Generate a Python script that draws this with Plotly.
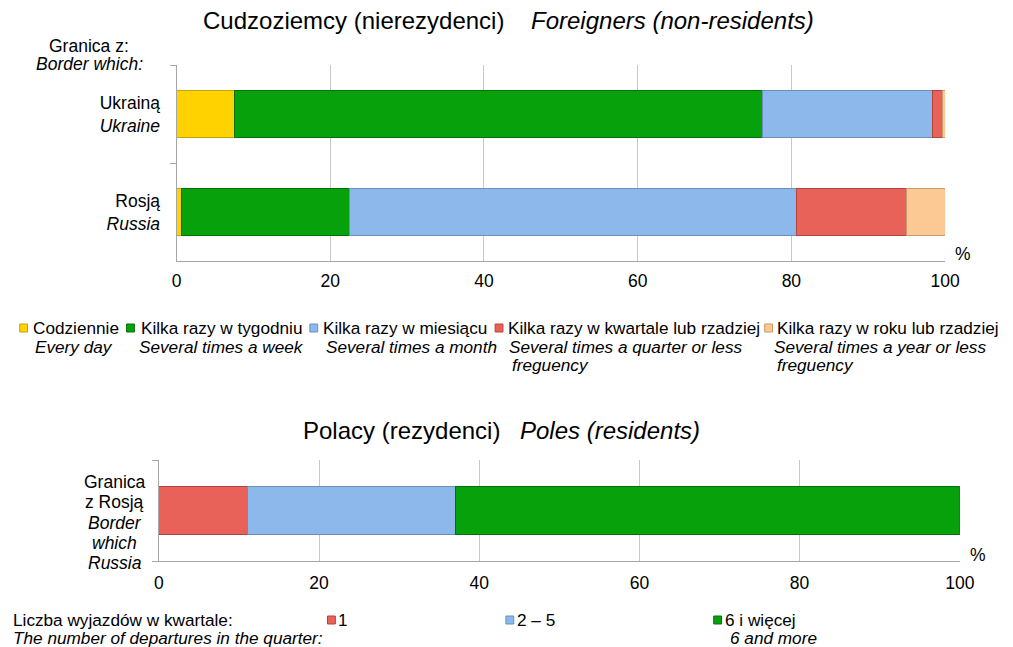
import plotly.graph_objects as go

W, H = 1013, 647

# ---------------- data ----------------
top_title_pl = "Cudzoziemcy (nierezydenci)"
top_title_en = "Foreigners (non-residents)"
bottom_title_pl = "Polacy (rezydenci)"
bottom_title_en = "Poles (residents)"

top_categories_pl = ["Ukrainą", "Rosją"]
top_categories_en = ["Ukraine", "Russia"]
top_axis_title = ["Granica z:", "Border which:"]

top_series_pl = ["Codziennie", "Kilka razy w tygodniu", "Kilka razy w miesiącu",
                 "Kilka razy w kwartale lub rzadziej", "Kilka razy w roku lub rzadziej"]
top_series_en = [["Every day"], ["Several times a week"], ["Several times a month"],
                 ["Several times a quarter or less", "freguency"],
                 ["Several times a year or less", "freguency"]]
ukraine_values = [7.5, 68.7, 22.1, 1.4, 0.3]
russia_values = [0.7, 21.8, 58.2, 14.3, 5.0]
top_colors = ["#FFD200", "#07A10B", "#8DB8EC", "#E8625A", "#FCC994"]
top_edges = ["#C9A400", "#04700A", "#6A8FBF", "#B2433C", "#C99A6A"]

bottom_category_lines = ["Granica", "z Rosją", "<i>Border</i>", "<i>which</i>", "<i>Russia</i>"]
bottom_category = "Granica z Rosją"
bottom_series_pl = ["1", "2 – 5", "6 i więcej"]
bottom_series_en = ["", "", "6 and more"]
poles_values = [11.0, 26.0, 63.0]
bottom_colors = ["#E8625A", "#8DB8EC", "#07A10B"]
bottom_edges = ["#B2433C", "#6A8FBF", "#04700A"]
bottom_legend_title = ["Liczba wyjazdów w kwartale:", "The number of departures in the quarter:"]

x_ticks = [0, 20, 40, 60, 80, 100]

FONT = "Liberation Sans, Arial, sans-serif"
FS = 17.5
LS = 17.2
TS = 24


def px(x):
    return x / W


def py(y):
    return 1 - y / H


fig = go.Figure()

top_cat_labels = [f"{p}<br><i>{e}</i>" for p, e in zip(top_categories_pl, top_categories_en)]
for i, name in enumerate(top_series_pl):
    fig.add_trace(go.Bar(
        y=top_cat_labels, x=[ukraine_values[i], russia_values[i]], orientation="h",
        name=name, marker=dict(color=top_colors[i], line=dict(color=top_edges[i], width=1)),
        xaxis="x", yaxis="y", showlegend=False))

for i, name in enumerate(bottom_series_pl):
    fig.add_trace(go.Bar(
        y=[bottom_category], x=[poles_values[i]], orientation="h",
        name=name, marker=dict(color=bottom_colors[i], line=dict(color=bottom_edges[i], width=1)),
        xaxis="x2", yaxis="y2", showlegend=False))

axis_common = dict(range=[0, 100], tickvals=x_ticks, showgrid=True, gridcolor="#c8c8c8",
                   gridwidth=1, showline=True, linecolor="#a6a6a6", zeroline=False,
                   ticks="", tickfont=dict(size=FS, color="black", family=FONT), fixedrange=True)

annotations = []


def ann(x, y, text, size=FS, xanchor="left", italic=False, align="left"):
    t = f"<i>{text}</i>" if italic else text
    annotations.append(dict(x=px(x), y=py(y), xref="paper", yref="paper", text=t,
                            showarrow=False, xanchor=xanchor, yanchor="middle", align=align,
                            font=dict(size=size, color="black", family=FONT)))


# titles
ann(200, 21, top_title_pl, size=TS)
ann(535, 21, top_title_en, size=TS, italic=True)
ann(302, 430, bottom_title_pl, size=TS)
ann(523, 430, bottom_title_en, size=TS, italic=True)

# top axis title
ann(86, 46, top_axis_title[0], xanchor="center")
ann(86, 64, top_axis_title[1], xanchor="center", italic=True)

# bottom category label
for k, line in enumerate(bottom_category_lines):
    ann(112, 482 + k * 20.3, line, xanchor="center")

# % marks
ann(977, 254, "%", xanchor="center")
ann(993, 555, "%", xanchor="center")

shapes = []

# top legend
sq_x = [15, 124, 311, 500, 775]
txt_x = [27, 137, 322, 511, 785]
en_x = [29, 135, 325, 512, 782]
for i, name in enumerate(top_series_pl):
    shapes.append(dict(type="rect", xref="paper", yref="paper",
                       x0=px(sq_x[i]), x1=px(sq_x[i] + 8), y0=py(332), y1=py(324),
                       fillcolor=top_colors[i], line=dict(color=top_edges[i], width=1)))
    ann(txt_x[i], 328, name, size=LS)
    for j, line in enumerate(top_series_en[i]):
        ann(en_x[i] + (3 * j), 347 + 18 * j, line, size=LS, italic=True)

# bottom legend
ann(6, 620, bottom_legend_title[0], size=LS)
ann(6, 638, bottom_legend_title[1], size=LS, italic=True)
bsq_x = [329, 511, 723]
btxt_x = [338, 520, 732]
ben_x = [339, 521, 738]
for i, name in enumerate(bottom_series_pl):
    shapes.append(dict(type="rect", xref="paper", yref="paper",
                       x0=px(bsq_x[i]), x1=px(bsq_x[i] + 8), y0=py(624), y1=py(616),
                       fillcolor=bottom_colors[i], line=dict(color=bottom_edges[i], width=1)))
    ann(btxt_x[i], 620, name, size=LS)
    if bottom_series_en[i]:
        ann(ben_x[i], 638, bottom_series_en[i], size=LS, italic=True)

fig.update_layout(
    width=W, height=H, margin=dict(l=0, r=0, t=0, b=0),
    paper_bgcolor="white", plot_bgcolor="white",
    barmode="stack", bargap=0.52,
    font=dict(family=FONT, size=FS, color="black"),
    xaxis=dict(domain=[px(175), px(959)], anchor="y", ticklabelstandoff=4, **axis_common),
    yaxis=dict(domain=[py(261), py(65)], anchor="x", type="category",
               categoryorder="array", categoryarray=top_cat_labels, autorange="reversed",
               showline=True, linecolor="#a6a6a6", ticks="outside", ticklen=6,
               tickcolor="#a6a6a6", tickson="boundaries", showgrid=False,
               tickfont=dict(size=FS, color="black", family=FONT), ticklabelstandoff=12,
               fixedrange=True),
    xaxis2=dict(domain=[px(157), px(974)], anchor="y2", ticklabelstandoff=6, **axis_common),
    yaxis2=dict(domain=[py(561), py(460)], anchor="x2", type="category",
                showline=True, linecolor="#a6a6a6", ticks="outside", ticklen=6,
                tickcolor="#a6a6a6", tickson="boundaries", showgrid=False,
                showticklabels=False, fixedrange=True),
    annotations=annotations, shapes=shapes,
)

fig.write_html("out.html", config={"displayModeBar": False},
               post_script="document.body.style.margin='0';document.body.style.overflow='hidden';")
